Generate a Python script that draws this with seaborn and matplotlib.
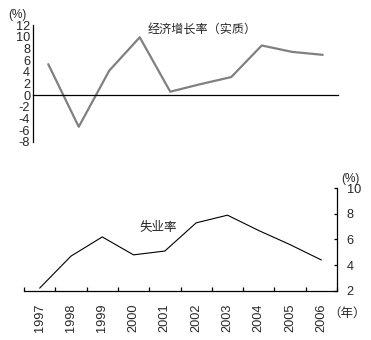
import matplotlib
matplotlib.use("Agg")
import matplotlib.pyplot as plt
import matplotlib.ticker as mticker
import numpy as np
import pandas as pd
import seaborn as sns

years = ["1997", "1998", "1999", "2000", "2001", "2002", "2003", "2004", "2005", "2006"]
gdp_growth = [5.3, -5.4, 4.2, 9.9, 0.6, 1.9, 3.1, 8.5, 7.4, 6.9]
unemployment = [2.2, 4.7, 6.2, 4.8, 5.1, 7.3, 7.9, 6.7, 5.6, 4.4]
gdp_ticks = [12, 10, 8, 6, 4, 2, 0, -2, -4, -6, -8]
unemp_ticks = [2, 4, 6, 8, 10]

sns.set_style("white")
plt.rcParams["font.family"] = ["Liberation Sans", "Noto Sans CJK SC"]

df = pd.DataFrame({"year": years, "gdp": gdp_growth, "unemp": unemployment})

W, H = 371, 340
fig = plt.figure(figsize=(W / 100, H / 100), dpi=100)
ax1 = fig.add_axes([33 / W, (H - 142) / H, (338 - 33) / W, (142 - 25) / H])
ax2 = fig.add_axes([24 / W, (H - 290.7) / H, (337 - 24) / W, (290.7 - 188.3) / H])

boundaries = np.arange(-0.5, len(years), 1.0)

# Real economic growth
sns.lineplot(data=df, x="year", y="gdp", ax=ax1, color="#808080", linewidth=1.6, sort=False)
ax1.set_xlim(-0.5, len(years) - 0.5)
ax1.set_ylim(-8, 12)
ax1.set_xlabel("")
ax1.set_ylabel("")
for s in ("top", "right"):
    ax1.spines[s].set_visible(False)
ax1.spines["bottom"].set_position(("data", 0))
for s in ("bottom", "left"):
    ax1.spines[s].set_color("black")
    ax1.spines[s].set_linewidth(0.9)
ax1.set_xticks(boundaries)
ax1.set_xticklabels([])
ax1.tick_params(axis="x", direction="in", length=3.5, width=0.9, color="black")
ax1.set_yticks(gdp_ticks)
ax1.set_yticklabels([str(t) for t in gdp_ticks])
ax1.tick_params(axis="y", direction="in", length=2.5, width=0.9, color="black",
                pad=2, labelsize=9.2)
ax1.patch.set_alpha(0)
fig.text(8 / W, 1 - 15 / H, "(%)", fontsize=8.5, va="center", ha="left")
fig.text(202 / W, 1 - 30 / H, "经济增长率（实质）", fontsize=8.7, va="center", ha="center")

# Unemployment rate
sns.lineplot(data=df, x="year", y="unemp", ax=ax2, color="black", linewidth=0.8, sort=False)
ax2.set_xlim(-0.5, len(years) - 0.5)
ax2.set_ylim(2, 10)
ax2.set_xlabel("")
ax2.set_ylabel("")
for s in ("top", "left"):
    ax2.spines[s].set_visible(False)
for s in ("bottom", "right"):
    ax2.spines[s].set_color("black")
    ax2.spines[s].set_linewidth(0.9)
ax2.yaxis.tick_right()
ax2.set_yticks(unemp_ticks)
ax2.set_yticklabels([str(t) for t in unemp_ticks])
ax2.tick_params(axis="y", direction="in", length=2.5, width=0.9, color="black",
                pad=7, labelsize=9.2)
ax2.set_xticks(range(len(years)))
ax2.set_xticklabels(years, rotation=90, fontsize=9.2)
ax2.xaxis.set_minor_locator(mticker.FixedLocator(boundaries))
ax2.tick_params(axis="x", which="major", length=0, pad=9)
ax2.tick_params(axis="x", which="minor", direction="in", length=3, width=0.9,
                color="black", bottom=True)
ax2.patch.set_alpha(0)
fig.text(350 / W, 1 - 179 / H, "(%)", fontsize=8.5, va="center", ha="center")
fig.text(158 / W, 1 - 228 / H, "失业率", fontsize=9, va="center", ha="center")
fig.text(347 / W, 1 - 314 / H, "（年）", fontsize=9, va="center", ha="center")

fig.savefig("out.png", dpi=100)
